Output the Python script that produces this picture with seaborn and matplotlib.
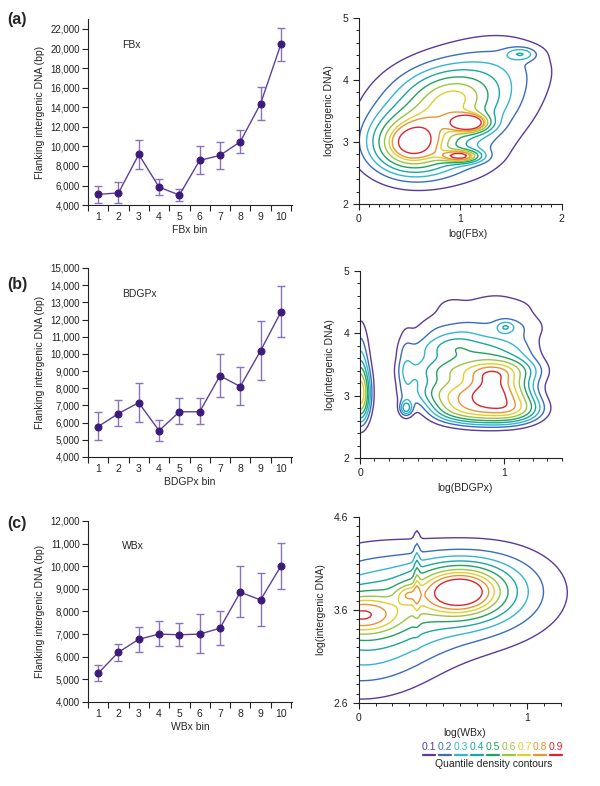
import numpy as np
import pandas as pd
import seaborn as sns
import matplotlib.pyplot as plt
from matplotlib.lines import Line2D
from matplotlib.ticker import FixedLocator, FuncFormatter

# ---- left panels: mean flanking intergenic DNA per expression bin ----
bins = list(range(1, 11))

fbx_mean = [5100, 5250, 9180, 5840, 5030, 8570, 9080, 10480, 14360, 20430]
fbx_low = [4200, 4200, 7650, 5020, 4440, 7200, 7650, 9280, 12690, 18730]
fbx_high = [6000, 6320, 10680, 6660, 5670, 10000, 10480, 11670, 16100, 22140]

bdgp_mean = [5770, 6530, 7160, 5530, 6630, 6630, 8725, 8100, 10180, 12430]
bdgp_low = [4980, 5780, 6060, 4940, 5920, 5920, 7510, 7040, 8460, 10960]
bdgp_high = [6600, 7290, 8300, 6160, 7410, 7410, 10000, 9220, 11930, 13960]

wbx_mean = [5270, 6200, 6770, 7000, 6970, 7000, 7260, 8850, 8510, 10000]
wbx_low = [4940, 5810, 6220, 6470, 6470, 6170, 6520, 7740, 7350, 9000]
wbx_high = [5620, 6570, 7330, 7570, 7480, 7870, 8030, 10000, 9710, 11020]

# ---- right panels: density components (centre, spread, relative weight) ----
fb_cx = [0.50, 0.95, 0.55, 1.05, 0.90, 0.95, 1.50, 1.10, 1.02, 1.60]
fb_cy = [2.95, 3.60, 3.40, 3.50, 2.70, 3.75, 4.30, 3.30, 2.77, 4.42]
fb_sx = [0.27, 0.48, 0.35, 0.70, 0.40, 0.30, 0.35, 0.13, 0.13, 0.10]
fb_sy = [0.32, 0.58, 0.50, 0.80, 0.30, 0.30, 0.35, 0.10, 0.07, 0.07]
fb_rho = [0.0, 0.25, 0.0, 0.25, 0.0, 0.0, 0.0, 0.0, 0.0, 0.0]
fb_w = [0.26, 0.45, 0.12, 0.15, 0.06, 0.12, 0.05, 0.040, 0.025, 0.008]

bd_cx = [0.62, 0.80, 0.98, 1.13, 0.48, 0.66, 0.85, 1.04, 0.42, 0.62, 0.82, 1.00,
         1.16, 0.45, 0.66, 0.88, 1.10, 0.50, 0.75, 1.01, 1.20, 0.60, 0.90, 1.15,
         0.70, 1.00, 0.93, 0.85, 0.00, 0.00, 0.31, 0.32, 1.01]
bd_cy = [2.78, 2.75, 2.75, 2.78, 3.05, 3.05, 3.05, 3.05, 3.40, 3.40, 3.40, 3.40,
         3.40, 3.75, 3.78, 3.75, 3.75, 4.10, 4.10, 4.10, 4.10, 4.45, 4.45, 4.45,
         4.70, 4.70, 3.28, 3.30, 3.00, 3.50, 3.35, 2.80, 4.10]
bd_sx = [0.12] * 27 + [0.35, 0.05, 0.05, 0.045, 0.03, 0.04]
bd_sy = [0.16] * 27 + [0.65, 0.30, 0.55, 0.55, 0.08, 0.06]
bd_rho = [0.0] * 33
bd_w = [0.80, 1.00, 1.00, 0.85, 0.55, 0.85, 1.10, 1.05, 0.45, 0.75, 0.95, 0.92,
        0.45, 0.40, 0.75, 0.55, 0.38, 0.30, 0.35, 0.35, 0.24, 0.25, 0.28, 0.22,
        0.10, 0.10, 0.45, 2.00, 1.20, 1.00, 0.50, 0.10, 0.05]

wb_cx = [0.00, 0.00, 0.00, 0.60, 0.55, 0.85, 0.345, 0.29]
wb_cy = [3.50, 3.55, 3.10, 3.80, 3.72, 3.90, 3.95, 3.77]
wb_sx = [0.30, 0.18, 0.35, 0.17, 0.40, 0.25, 0.012, 0.05]
wb_sy = [0.48, 0.15, 0.35, 0.18, 0.38, 0.30, 0.30, 0.07]
wb_rho = [0, 0, 0, 0, 0, 0, 0, 0]
wb_w = [0.32, 0.11, 0.10, 0.18, 0.40, 0.06, 0.004, 0.006]

quantiles = [0.1, 0.2, 0.3, 0.4, 0.5, 0.6, 0.7, 0.8, 0.9]
contour_colors = ["#5b3a9b", "#3a6cbd", "#33b5d3", "#19a7a1", "#20a35e",
                  "#9cc43f", "#e2cf2a", "#ec9331", "#d9262e"]

sns.set_style("ticks")
plt.rcParams["font.family"] = ["Liberation Sans", "DejaVu Sans"]
plt.rcParams["font.size"] = 7.5

line_col = "#5e3f9e"
dot_col = "#3b1c7a"
err_col = "#8a72bf"

fig = plt.figure(figsize=(6, 7.86), dpi=100)


def left_panel(rect, mean, low, high, ylim, ystep, name):
    ax = fig.add_axes(rect)
    df = pd.DataFrame({"bin": bins, "mean": mean})
    yerr = [np.array(mean) - np.array(low), np.array(high) - np.array(mean)]
    ax.errorbar(bins, mean, yerr=yerr, fmt="none", ecolor=err_col,
                elinewidth=1.0, capsize=3, capthick=1.0, zorder=2)
    sns.lineplot(data=df, x="bin", y="mean", color=line_col, linewidth=1.0,
                 marker="o", markersize=5, markerfacecolor=dot_col,
                 markeredgecolor=dot_col, ax=ax, zorder=3)
    ax.set_xlim(0.5, 10.55)
    ax.set_ylim(*ylim)
    ax.set_xticks(np.arange(0.5, 11, 1.0))
    ax.set_xticklabels([])
    ax.set_xticks(bins, minor=True)
    ax.set_xticklabels([str(b) for b in bins], minor=True)
    ax.tick_params(axis="x", which="minor", length=0, pad=5)
    ax.tick_params(axis="x", which="major", length=4, width=0.8)
    ax.set_yticks(np.arange(4000, ylim[1] + 1, ystep))
    ax.yaxis.set_major_formatter(FuncFormatter(lambda v, p: f"{int(v):,}"))
    ax.tick_params(axis="y", length=4, width=0.8, pad=2)
    ax.tick_params(labelsize=7, colors="#222222")
    for s in ["top", "right"]:
        ax.spines[s].set_visible(False)
    for s in ["left", "bottom"]:
        ax.spines[s].set_linewidth(0.8)
        ax.spines[s].set_color("#222222")
    ax.set_xlabel(f"{name} bin", fontsize=7.5, labelpad=2)
    ax.set_ylabel("Flanking intergenic DNA (bp)", fontsize=7.5, labelpad=4)
    ax.text(0.165, 0.86, name, transform=ax.transAxes, fontsize=7.5,
            va="center", ha="left")
    return ax


def density(X, Y, cx, cy, sx, sy, rho, w):
    Z = np.zeros_like(X)
    for mx, my, ax_, ay, r, wt in zip(cx, cy, sx, sy, rho, w):
        dx = (X - mx) / ax_
        dy = (Y - my) / ay
        q = (dx ** 2 - 2 * r * dx * dy + dy ** 2) / (1 - r ** 2)
        Z += wt * np.exp(-0.5 * q) / (2 * np.pi * ax_ * ay * np.sqrt(1 - r ** 2))
    return Z


def right_panel(rect, comps, xlim, xbound, ylim, ymajor, yminor, xlabel, ylabels):
    ax = fig.add_axes(rect)
    xs = np.linspace(0, xlim[1] + 0.4, 150)
    ys = np.linspace(ylim[0] - 0.6, ylim[1] + 0.6, 150)
    X, Y = np.meshgrid(xs, ys)
    Z = density(X, Y, *comps)
    z = np.sort(Z.ravel())
    c = np.cumsum(z)
    c /= c[-1]
    levels = np.interp(quantiles, c, z)
    ax.contour(X, Y, Z, levels=levels, colors=contour_colors, linewidths=1.0)
    ax.set_xlim(*xlim)
    ax.set_ylim(*ylim)
    ax.spines["bottom"].set_bounds(0, xbound)
    for s in ["top", "right"]:
        ax.spines[s].set_visible(False)
    for s in ["left", "bottom"]:
        ax.spines[s].set_linewidth(0.8)
        ax.spines[s].set_color("#222222")
    ax.set_xticks(list(range(0, int(xbound) + 1)))
    ax.xaxis.set_minor_locator(FixedLocator(np.arange(0, xbound + 0.001, 0.1)))
    ax.set_yticks(ymajor)
    ax.set_yticklabels(ylabels)
    ax.yaxis.set_minor_locator(FixedLocator(np.arange(ylim[0], ylim[1] + 0.001, yminor)))
    ax.tick_params(which="major", length=4, width=0.8, labelsize=7.5, colors="#222222")
    ax.tick_params(which="minor", length=2.5, width=0.7, colors="#222222")
    ax.set_xlabel(xlabel, fontsize=7.5, labelpad=3)
    ax.set_ylabel("log(intergenic DNA)", fontsize=7.5, labelpad=6)
    return ax


left_panel([0.1467, 0.739, 0.34, 0.2366], fbx_mean, fbx_low, fbx_high,
           (4000, 23000), 2000, "FBx")
left_panel([0.1467, 0.4186, 0.34, 0.2405], bdgp_mean, bdgp_low, bdgp_high,
           (4000, 15000), 1000, "BDGPx")
left_panel([0.1467, 0.1069, 0.34, 0.2303], wbx_mean, wbx_low, wbx_high,
           (4000, 12000), 1000, "WBx")

right_panel([0.598, 0.7405, 218 / 600, 0.2366],
            (fb_cx, fb_cy, fb_sx, fb_sy, fb_rho, fb_w),
            (0, 2.15), 2, (2, 5), [2, 3, 4, 5], 0.2, "log(FBx)",
            ["2", "3", "4", "5"])
right_panel([0.6, 0.4173, 209 / 600, 0.238],
            (bd_cx, bd_cy, bd_sx, bd_sy, bd_rho, bd_w),
            (0, 1.45), 1.4, (2, 5), [2, 3, 4, 5], 0.2, "log(BDGPx)",
            ["2", "3", "4", "5"])
right_panel([0.598, 0.1056, 212 / 600, 0.2366],
            (wb_cx, wb_cy, wb_sx, wb_sy, wb_rho, wb_w),
            (0, 1.26), 1.2, (2.6, 4.6), [2.6, 3.6, 4.6], 0.1, "log(WBx)",
            ["2.6", "3.6", "4.6"])

for lab, yy in zip(["(a)", "(b)", "(c)"], [0.985, 0.648, 0.343]):
    fig.text(0.012, yy, lab, fontsize=11.5, fontweight="bold", va="top")

# legend for the contour quantiles
for i, (q, col) in enumerate(zip(quantiles, contour_colors)):
    xc = (429 + i * 15.9) / 600
    fig.text(xc, 1 - 747 / 786, f"{q:.1f}", color=col, fontsize=7.5,
             ha="center", va="center")
    fig.add_artist(Line2D([xc - 6 / 600, xc + 6 / 600], [1 - 755 / 786] * 2,
                          color=col, linewidth=1.6))
fig.text(494 / 600, 1 - 764 / 786, "Quantile density contours", fontsize=7.5,
         ha="center", va="center", color="#222222")

fig.savefig("out.png", dpi=100)
